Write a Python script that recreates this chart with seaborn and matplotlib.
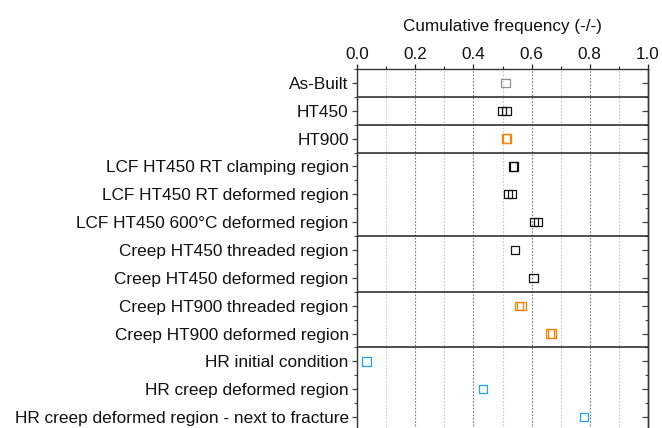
import matplotlib
matplotlib.use("Agg")
import matplotlib.pyplot as plt
from matplotlib.ticker import MultipleLocator, FixedLocator
import seaborn as sns
import pandas as pd

sns.set_theme(style="white")
plt.rcParams["font.family"] = ["Liberation Sans", "DejaVu Sans"]

categories = [
    "As-Built",
    "HT450",
    "HT900",
    "LCF HT450 RT clamping region",
    "LCF HT450 RT deformed region",
    "LCF HT450 600°C deformed region",
    "Creep HT450 threaded region",
    "Creep HT450 deformed region",
    "Creep HT900 threaded region",
    "Creep HT900 deformed region",
    "HR initial condition",
    "HR creep deformed region",
    "HR creep deformed region - next to fracture",
]

sample_category = [
    "As-Built",
    "HT450", "HT450",
    "HT900", "HT900",
    "LCF HT450 RT clamping region", "LCF HT450 RT clamping region",
    "LCF HT450 RT deformed region", "LCF HT450 RT deformed region",
    "LCF HT450 600°C deformed region", "LCF HT450 600°C deformed region",
    "Creep HT450 threaded region",
    "Creep HT450 deformed region",
    "Creep HT900 threaded region", "Creep HT900 threaded region",
    "Creep HT900 deformed region", "Creep HT900 deformed region",
    "HR initial condition",
    "HR creep deformed region",
    "HR creep deformed region - next to fracture",
]
sample_value = [
    0.510,
    0.498, 0.514,
    0.512, 0.516,
    0.535, 0.540,
    0.519, 0.533,
    0.608, 0.621,
    0.544,
    0.606,
    0.557, 0.565,
    0.664, 0.669,
    0.033,
    0.433,
    0.781,
]
sample_group = [
    "As-Built",
    "HT450", "HT450",
    "HT900", "HT900",
    "HT450", "HT450",
    "HT450", "HT450",
    "HT450", "HT450",
    "HT450",
    "HT450",
    "HT900", "HT900",
    "HT900", "HT900",
    "HR",
    "HR",
    "HR",
]

group_colors = {"As-Built": "#8f8f8f", "HT450": "#111111", "HT900": "#ff7f00", "HR": "#1ea0ff"}
separators = [0.5, 1.5, 2.5, 5.5, 7.5, 9.5]

df = pd.DataFrame({"category": sample_category, "value": sample_value, "group": sample_group})
df["row"] = df["category"].map({c: i for i, c in enumerate(categories)})

fig = plt.figure(figsize=(6.62, 4.28), dpi=100)
ax = fig.add_axes([357 / 662, -3 / 428, 291 / 662, 362 / 428])

sns.scatterplot(data=df, x="value", y="row", hue="group", palette=group_colors,
                marker="s", s=36, linewidth=0.9, legend=False, ax=ax, zorder=4)
# hollow squares: outline in the group colour
for coll in ax.collections:
    fc = coll.get_facecolors()
    coll.set_edgecolors(fc)
    coll.set_facecolors("none")

ax.set_xlim(0, 1)
ax.set_ylim(len(categories) - 0.5, -0.5)

# vertical dotted grid
for x in [0.2, 0.4, 0.6, 0.8]:
    ax.axvline(x, color="#7a7a7a", lw=0.8, ls=(0, (1.5, 1.5)), zorder=1)
for x in [0.1, 0.3, 0.5, 0.7, 0.9]:
    ax.axvline(x, color="#c8c8c8", lw=0.8, ls=(0, (1.5, 1.5)), zorder=1)

for y in separators:
    ax.axhline(y, color="#222222", lw=1.1, zorder=2)

# x axis on top
ax.xaxis.set_ticks_position("top")
ax.xaxis.set_label_position("top")
ax.set_xticks([0.0, 0.2, 0.4, 0.6, 0.8, 1.0])
ax.set_xticklabels(["0.0", "0.2", "0.4", "0.6", "0.8", "1.0"])
ax.xaxis.set_minor_locator(MultipleLocator(0.1))
ax.tick_params(axis="x", which="major", direction="out", length=3.5, width=0.9,
               colors="#222222", labelcolor="#111111", labelsize=12.3, pad=1.5)
ax.tick_params(axis="x", which="minor", direction="out", length=2.2, width=0.8, colors="#222222")
ax.set_xlabel("Cumulative frequency (-/-)", fontsize=12.3, labelpad=11.5, color="#111111")

ax.set_yticks(range(len(categories)))
ax.set_yticklabels(categories)
ax.set_ylabel("")
ax.yaxis.set_minor_locator(FixedLocator([i + 0.5 for i in range(-1, len(categories))]))
ax.tick_params(axis="y", which="major", direction="out", length=3.5, width=0.9,
               colors="#444444", labelcolor="#111111", labelsize=12.4, pad=2.5, left=True)
ax.tick_params(axis="y", which="minor", direction="out", length=2, width=0.8,
               colors="#444444", left=True)

# mirrored ticks on the right edge, pointing inward
sec = ax.secondary_yaxis("right")
sec.set_yticks(range(len(categories)))
sec.yaxis.set_minor_locator(FixedLocator([i + 0.5 for i in range(-1, len(categories))]))
sec.tick_params(axis="y", which="major", direction="in", length=4, width=0.9,
                colors="#444444", labelright=False)
sec.tick_params(axis="y", which="minor", direction="in", length=2, width=0.8,
                colors="#444444")
sec.spines["right"].set_color("#333333")
sec.spines["right"].set_linewidth(1.0)

for side in ["top", "left", "right"]:
    ax.spines[side].set_visible(True)
    ax.spines[side].set_color("#333333")
    ax.spines[side].set_linewidth(1.0)
ax.spines["bottom"].set_visible(False)

fig.savefig("out.png", dpi=100)
